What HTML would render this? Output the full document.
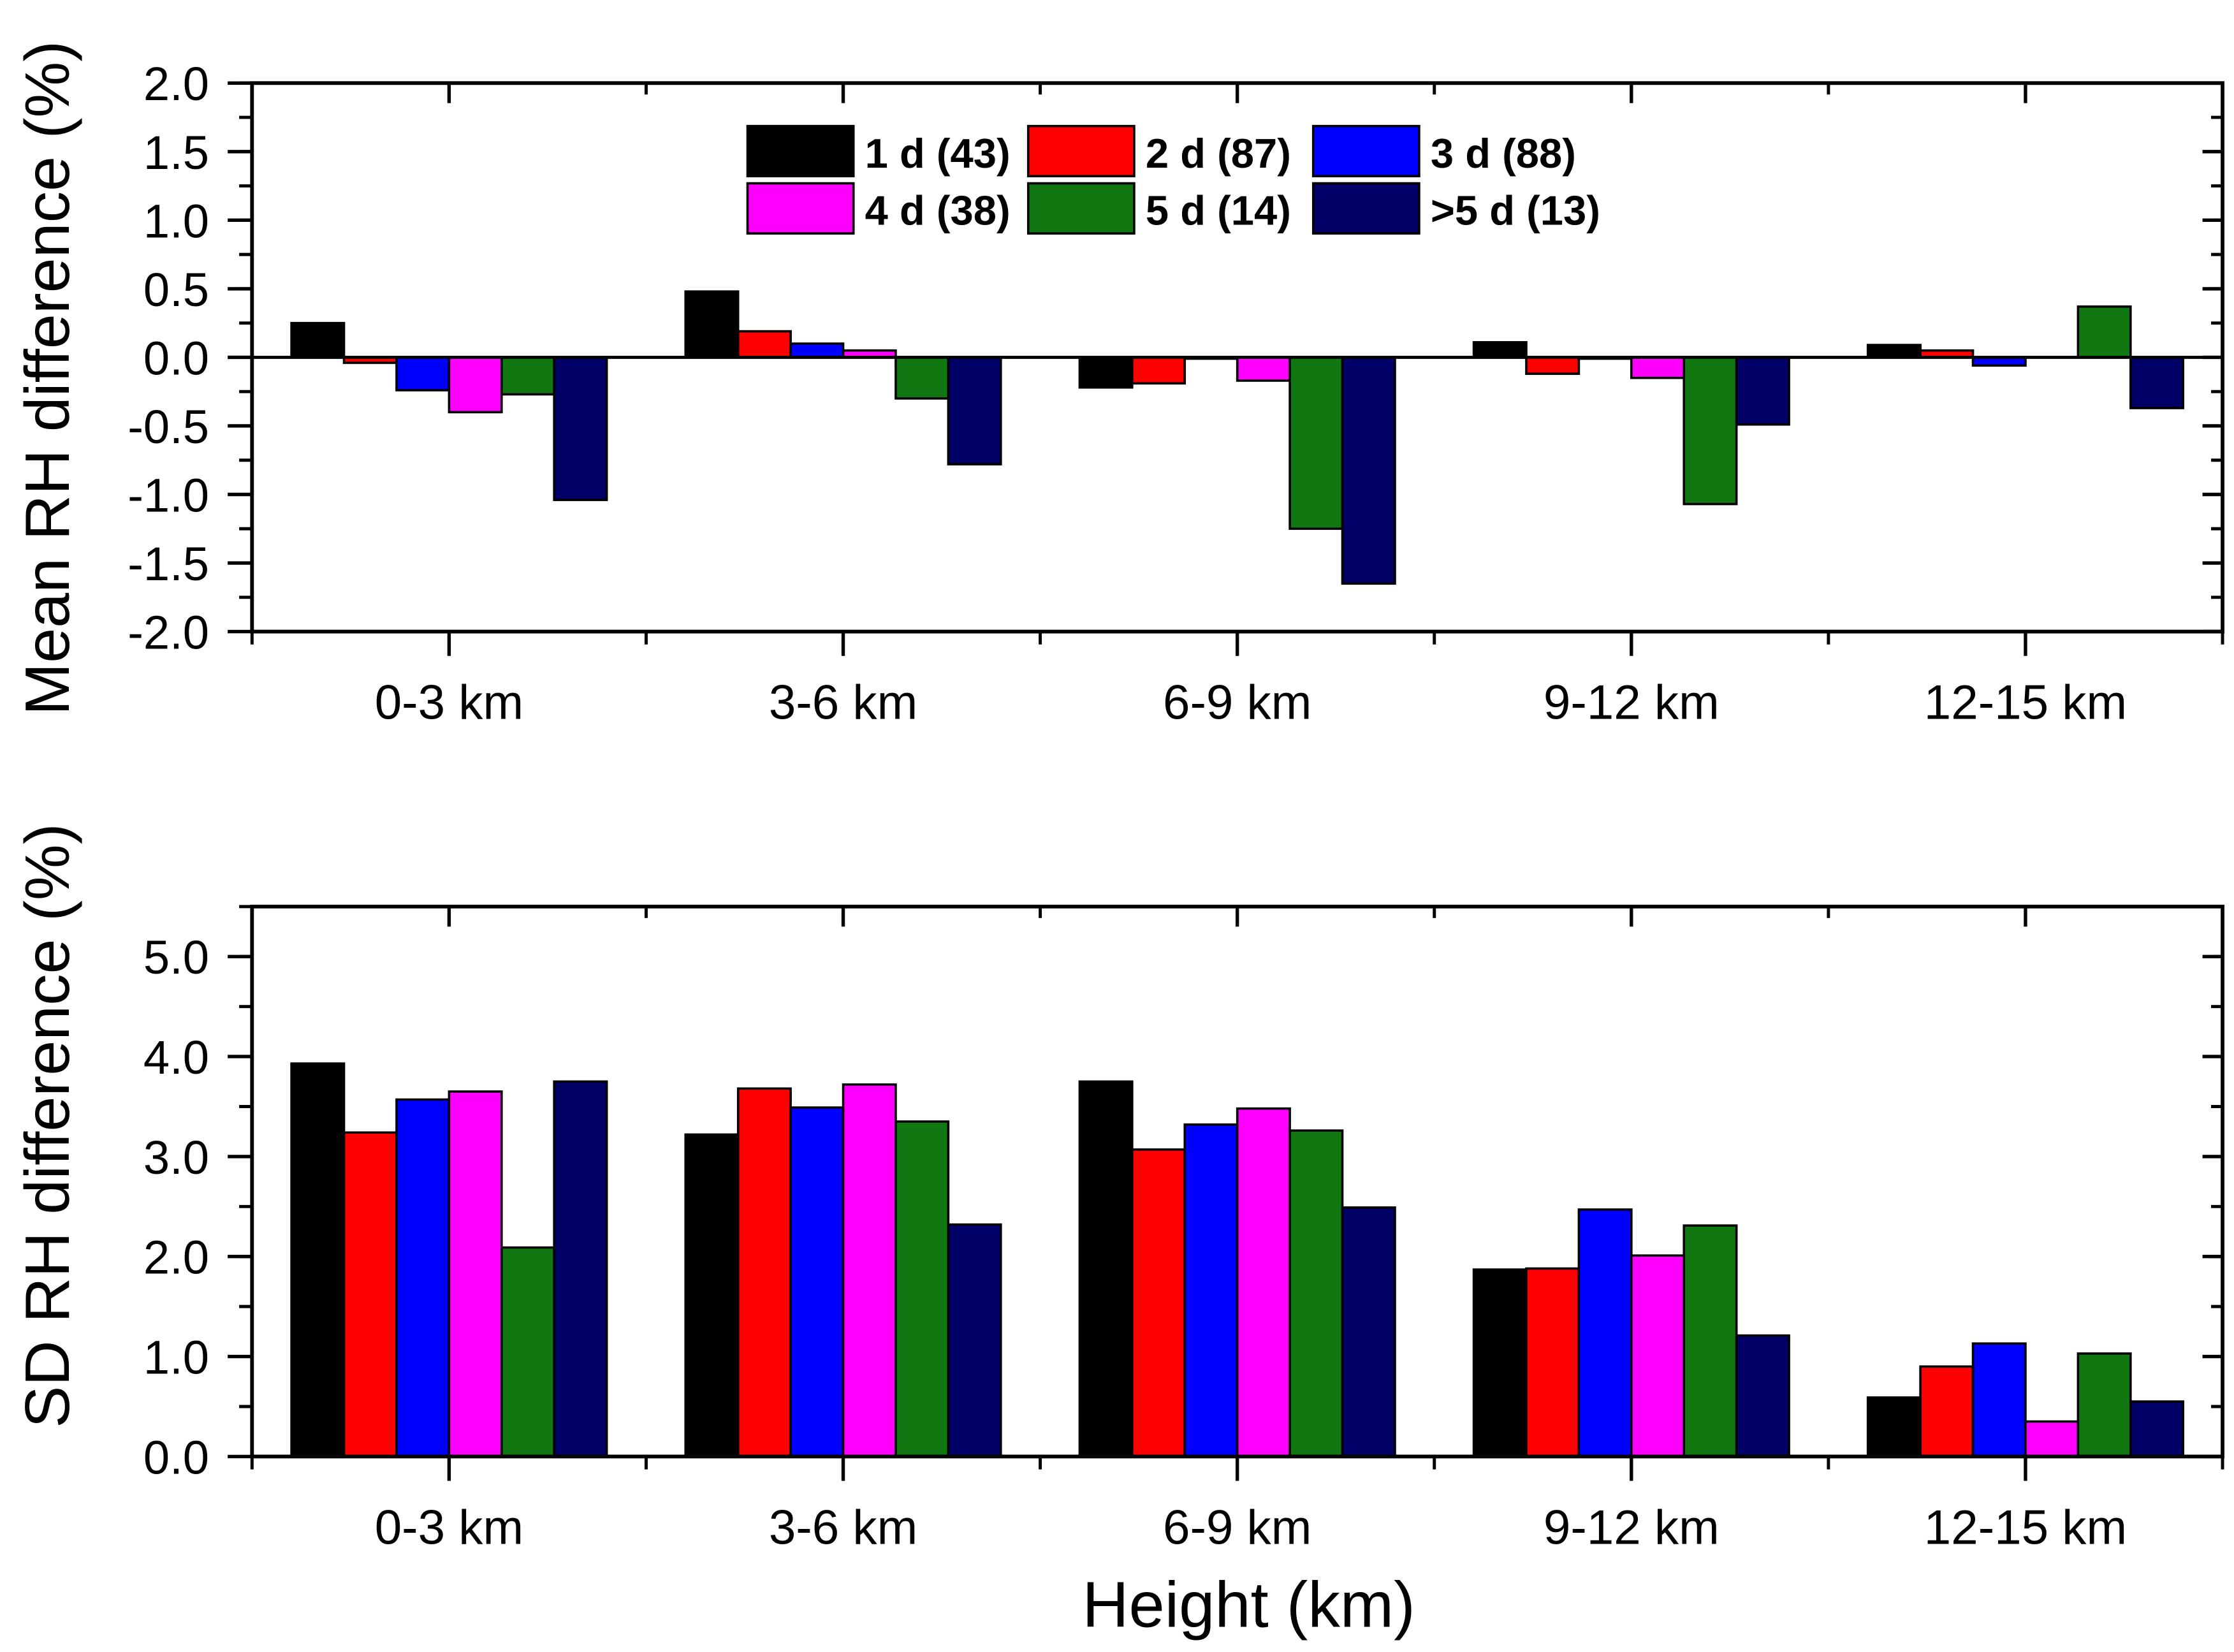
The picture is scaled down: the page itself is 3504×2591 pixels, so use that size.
<!DOCTYPE html>
<html><head><meta charset="utf-8"><style>
html,body{margin:0;padding:0;background:#fff}
svg{display:block}
text{font-family:"Liberation Sans",Arial,sans-serif;fill:#000}
</style></head><body>
<svg id="chart" width="3504" height="2591" viewBox="0 0 1560 1153.5" preserveAspectRatio="none" xmlns="http://www.w3.org/2000/svg"></svg>
<script>
const categories = ["0-3 km","3-6 km","6-9 km","9-12 km","12-15 km"];
const seriesNames = ["1 d (43)","2 d (87)","3 d (88)","4 d (38)","5 d (14)",">5 d (13)"];
const seriesColors = ["#000000","#ff0000","#0000ff","#ff00ff","#117711","#000066"];
const meanValues = [
  [0.25, 0.48, -0.22, 0.11, 0.09],
  [-0.04, 0.19, -0.19, -0.12, 0.05],
  [-0.24, 0.10, -0.01, -0.01, -0.06],
  [-0.40, 0.05, -0.17, -0.15, 0.00],
  [-0.27, -0.30, -1.25, -1.07, 0.37],
  [-1.04, -0.78, -1.65, -0.49, -0.37]
];
const sdValues = [
  [3.93, 3.22, 3.75, 1.87, 0.59],
  [3.24, 3.68, 3.07, 1.88, 0.90],
  [3.57, 3.49, 3.32, 2.47, 1.13],
  [3.65, 3.72, 3.48, 2.01, 0.35],
  [2.09, 3.35, 3.26, 2.31, 1.03],
  [3.75, 2.32, 2.49, 1.21, 0.55]
];
const meanTicks = ["-2.0","-1.5","-1.0","-0.5","0.0","0.5","1.0","1.5","2.0"];
const sdTicks = ["0.0","1.0","2.0","3.0","4.0","5.0"];

const svg = document.getElementById('chart');
const NS = "http://www.w3.org/2000/svg";
function mk(tag, attrs, parent){
  const e = document.createElementNS(NS, tag);
  for (const k in attrs) e.setAttribute(k, attrs[k]);
  (parent||svg).appendChild(e);
  return e;
}
const X0 = 176, X1 = 1552;
const step = (X1 - X0) / categories.length;
function xc(i){ return X0 + step * (i + 0.5); }
const barW = step * 0.8 / seriesNames.length;

function panel(name, top, bot, ymin, ymax, tickLabels, minorStep, values, labelY){
  const g = mk('g', {});
  
  
  const y = v => bot - (v - ymin) / (ymax - ymin) * (bot - top);
  values.forEach((ser, s) => {
    ser.forEach((v, i) => {
      const x = xc(i) - step*0.4 + s*barW;
      const ya = y(v), yb = y(0);
      const r = mk('rect', {x: x, y: Math.min(ya,yb), width: barW, height: Math.abs(yb-ya), fill: seriesColors[s], stroke:'#000', 'stroke-width':1.6}, g);
      
      
    });
  });
  if (ymin < 0) mk('line', {x1:X0, x2:X1, y1:y(0), y2:y(0), stroke:'#000','stroke-width':2.2}, g);
  mk('rect', {x:X0, y:top, width:X1-X0, height:bot-top, fill:'none', stroke:'#000','stroke-width':2.6}, g);
  tickLabels.forEach((t) => {
    const v = parseFloat(t);
    const yy = y(v);
    mk('line', {x1:X0-17, x2:X0, y1:yy, y2:yy, stroke:'#000','stroke-width':2.4}, g);
    mk('line', {x1:X1, x2:X1-14, y1:yy, y2:yy, stroke:'#000','stroke-width':2.4}, g);
    const tx = mk('text', {x:X0-30, y:yy+12, 'text-anchor':'end','font-size':33}, g);
    tx.textContent = t;
    
    
  });
  for (let v = ymin; v <= ymax + 1e-9; v += minorStep) {
    const yy = y(v);
    mk('line', {x1:X0-9, x2:X0, y1:yy, y2:yy, stroke:'#000','stroke-width':2.2}, g);
    mk('line', {x1:X1, x2:X1-8, y1:yy, y2:yy, stroke:'#000','stroke-width':2.2}, g);
  }
  categories.forEach((c, i) => {
    const x = xc(i);
    mk('line', {x1:x, x2:x, y1:bot, y2:bot+17, stroke:'#000','stroke-width':2.4}, g);
    mk('line', {x1:x, x2:x, y1:top, y2:top+14, stroke:'#000','stroke-width':2.4}, g);
    const tx = mk('text', {x:x, y:labelY, 'text-anchor':'middle','font-size':34}, g);
    tx.textContent = c;
    
    
  });
  for (let i = 0; i <= categories.length; i++) {
    const x = X0 + step*i;
    mk('line', {x1:x, x2:x, y1:bot, y2:bot+9, stroke:'#000','stroke-width':2.2}, g);
    mk('line', {x1:x, x2:x, y1:top, y2:top+8, stroke:'#000','stroke-width':2.2}, g);
  }
}
panel('mean-panel', 58, 441, -2, 2, meanTicks, 0.25, meanValues, 502);
panel('sd-panel', 633, 1017, 0, 5.5, sdTicks, 0.5, sdValues, 1078);

let t = mk('text', {x:0, y:0, transform:'translate(48,264) rotate(-90)', 'text-anchor':'middle','font-size':44});
t.textContent = 'Mean RH difference (%)';


t = mk('text', {x:0, y:0, transform:'translate(48,786) rotate(-90)', 'text-anchor':'middle','font-size':44});
t.textContent = 'SD RH difference (%)';


t = mk('text', {x:872, y:1136, 'text-anchor':'middle','font-size':45});
t.textContent = 'Height (km)';



const lx = [522, 718, 917], ly = [88, 128];
seriesNames.forEach((n, s) => {
  const col = s % 3, row = Math.floor(s / 3);
  const g = mk('g', {});
  
  
  mk('rect', {x:lx[col], y:ly[row], width:74, height:35, fill:seriesColors[s], stroke:'#000','stroke-width':1.6}, g);
  const tx = mk('text', {x:lx[col]+82, y:ly[row]+29, 'font-size':29, 'font-weight':'bold'}, g);
  tx.textContent = n;
});
</script>
</body></html>
